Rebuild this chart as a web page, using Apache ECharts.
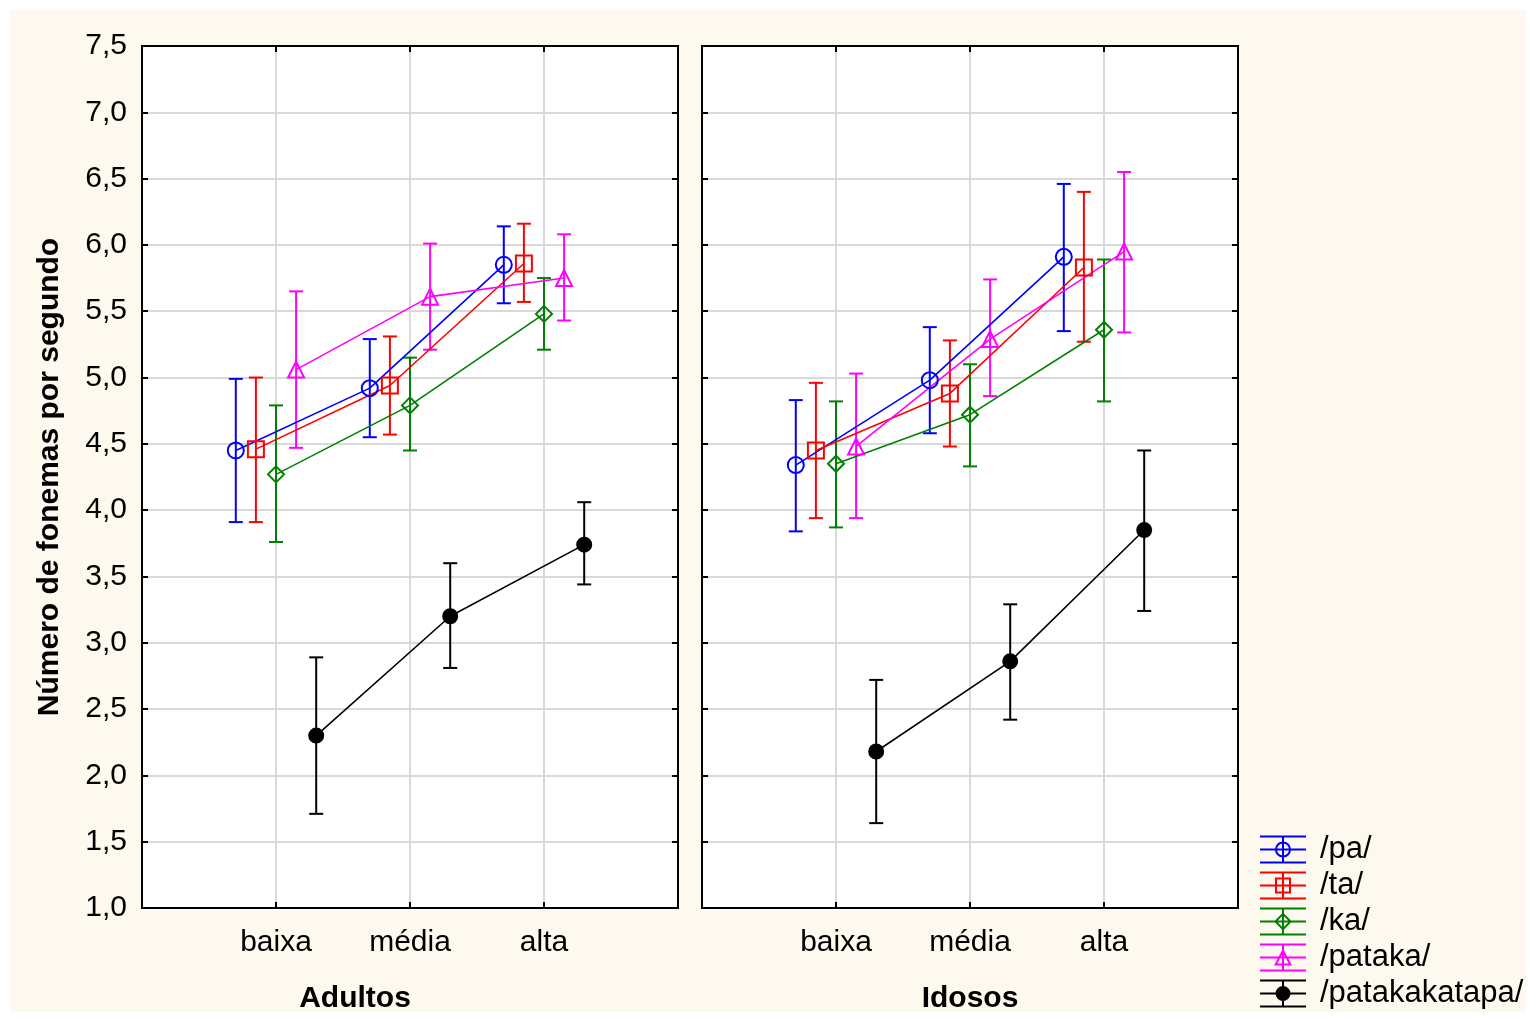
<!DOCTYPE html>
<html lang="pt">
<head>
  <meta charset="UTF-8">
  <title>fonemas</title>
  <style>
    html, body { margin:0; padding:0; background:#fff; }
    #chart { width:1536px; height:1022px; }
  </style>
</head>
<body>
  <div id="chart"></div>
  <script src="https://cdn.jsdelivr.net/npm/echarts@6/dist/echarts.min.js"></script>
  <script>
    var categories = ['baixa', 'média', 'alta']
    var seriesNames = ['/pa/', '/ta/', '/ka/', '/pataka/', '/patakakatapa/']
    var colors = ['#0000ff', '#ff0000', '#008000', '#ff00ff', '#000000']
    var symbols = ['circle', 'rect', 'diamond', 'triangle', 'circle']
    var offsets = [-0.3, -0.15, 0, 0.15, 0.3]

    // médias e limites (baixa, média, alta) por série
    var adultosMean = [
      [4.45, 4.92, 5.85],
      [4.46, 4.94, 5.86],
      [4.27, 4.79, 5.48],
      [5.06, 5.61, 5.75],
      [2.30, 3.20, 3.74]
    ]
    var adultosLow = [
      [3.91, 4.55, 5.56],
      [3.91, 4.57, 5.57],
      [3.76, 4.45, 5.21],
      [4.47, 5.21, 5.43],
      [1.71, 2.81, 3.44]
    ]
    var adultosHigh = [
      [4.99, 5.29, 6.14],
      [5.00, 5.31, 6.16],
      [4.79, 5.15, 5.75],
      [5.65, 6.01, 6.08],
      [2.89, 3.60, 4.06]
    ]
    var idososMean = [
      [4.34, 4.98, 5.91],
      [4.45, 4.88, 5.83],
      [4.35, 4.72, 5.36],
      [4.48, 5.29, 5.95],
      [2.18, 2.86, 3.85]
    ]
    var idososLow = [
      [3.84, 4.58, 5.35],
      [3.94, 4.48, 5.27],
      [3.87, 4.33, 4.82],
      [3.94, 4.86, 5.34],
      [1.64, 2.42, 3.24]
    ]
    var idososHigh = [
      [4.83, 5.38, 6.46],
      [4.96, 5.28, 6.40],
      [4.82, 5.10, 5.89],
      [5.03, 5.74, 6.55],
      [2.72, 3.29, 4.45]
    ]

    var FONT = 'Liberation Sans, Arial, sans-serif'
    var panels = [
      { name:'Adultos', mean:adultosMean, low:adultosLow, high:adultosHigh, left:142, namePad:[0, 110, 0, 0] },
      { name:'Idosos', mean:idososMean, low:idososLow, high:idososHigh, left:702, namePad:0 }
    ]

    // ícones da legenda: barra de erro + marcador (46 x 28)
    var bars = 'M0 0H46V2H0Z M0 13H46V15H0Z M0 26H46V28H0Z M22 0H24V28H22Z '
    var legendIcons = [
      bars + 'M15 14A8 8 0 1 1 31 14A8 8 0 1 1 15 14Z M17 14A6 6 0 1 0 29 14A6 6 0 1 0 17 14Z',
      bars + 'M15 6H31V22H15Z M17 8V20H29V8Z',
      bars + 'M23 5L32 14L23 23L14 14Z M23 7.8L16.8 14L23 20.2L29.2 14Z',
      bars + 'M23 5L32 22L14 22Z M23 9.3L17.4 20L28.6 20Z',
      bars + 'M15.5 14A7.5 7.5 0 1 1 30.5 14A7.5 7.5 0 1 1 15.5 14Z'
    ]

    function errorBar(params, api) {
      var x = api.value(0)
      var lo = api.coord([x, api.value(1)])
      var hi = api.coord([x, api.value(2)])
      var w = 7
      var style = { stroke: api.visual('color'), lineWidth: 2 }
      return {
        type: 'group',
        children: [
          { type:'line', shape:{ x1:lo[0], y1:lo[1], x2:hi[0], y2:hi[1] }, style:style },
          { type:'line', shape:{ x1:lo[0]-w, y1:lo[1], x2:lo[0]+w, y2:lo[1] }, style:style },
          { type:'line', shape:{ x1:hi[0]-w, y1:hi[1], x2:hi[0]+w, y2:hi[1] }, style:style }
        ]
      }
    }

    var tickStyle = { show:true, inside:true, length:6, lineStyle:{ color:'#000', width:2 } }
    var lineStyleAx = { show:true, onZero:false, lineStyle:{ color:'#000', width:2 } }

    var grids = [], xAxes = [], yAxes = [], series = []
    panels.forEach(function (p, gi) {
      grids.push({ left:p.left, top:46, width:536, height:862, show:true,
        backgroundColor:'#fff', borderColor:'#000', borderWidth:2 })
      // eixo x inferior
      xAxes.push({
        gridIndex:gi, type:'value', min:0, max:4, interval:1,
        name:p.name, nameLocation:'middle', nameGap:76,
        nameTextStyle:{ fontFamily:FONT, fontSize:30, fontWeight:'bold', color:'#000', padding:p.namePad },
        axisLine:lineStyleAx, axisTick:tickStyle,
        axisLabel:{ margin:20, fontFamily:FONT, fontSize:30, color:'#000',
          formatter:function (v) { return categories[v - 1] || '' } },
        splitLine:{ show:true, lineStyle:{ color:'#d9d9d9', width:2 } }
      })
      // eixo x superior (só marcas)
      xAxes.push({
        gridIndex:gi, type:'value', min:0, max:4, interval:1, position:'top',
        axisLine:lineStyleAx, axisTick:tickStyle,
        axisLabel:{ show:false }, splitLine:{ show:false }
      })
      yAxes.push({
        gridIndex:gi, type:'value', min:1, max:7.5, interval:0.5,
        name: gi === 0 ? 'Número de fonemas por segundo' : '',
        nameLocation:'middle', nameGap:77,
        nameTextStyle:{ fontFamily:FONT, fontSize:30, fontWeight:'bold', color:'#000' },
        axisLine:lineStyleAx, axisTick:tickStyle,
        axisLabel:{ show: gi === 0, margin:15, fontFamily:FONT, fontSize:30, color:'#000',
          formatter:function (v) { return v.toFixed(1).replace('.', ',') } },
        splitLine:{ show:true, lineStyle:{ color:'#d9d9d9', width:2 } }
      })
      yAxes.push({
        gridIndex:gi, type:'value', min:1, max:7.5, interval:0.5, position:'right',
        axisLine:lineStyleAx, axisTick:tickStyle,
        axisLabel:{ show:false }, splitLine:{ show:false }
      })
    })

    panels.forEach(function (p, gi) {
      seriesNames.forEach(function (nm, si) {
        var c = colors[si]
        var pts = p.mean[si].map(function (v, ci) { return [ci + 1 + offsets[si], v] })
        var errs = p.mean[si].map(function (v, ci) {
          return [ci + 1 + offsets[si], p.low[si][ci], p.high[si][ci]]
        })
        series.push({
          name:nm, type:'line', xAxisIndex:gi * 2, yAxisIndex:gi * 2,
          data:pts, symbol:symbols[si], symbolSize: si === 4 ? 14 : 16,
          showAllSymbol:true, z:3, animation:false,
          lineStyle:{ color:c, width:1.6 },
          itemStyle:{ color: si === 4 ? '#000' : 'rgba(255,255,255,0)', borderColor:c, borderWidth:2 }
        })
        series.push({
          name:nm, type:'custom', xAxisIndex:gi * 2, yAxisIndex:gi * 2,
          data:errs, renderItem:errorBar, z:2, animation:false,
          itemStyle:{ color:c },
          encode:{ x:0, y:[1, 2] }
        })
      })
    })

    var chart = echarts.init(document.getElementById('chart'))
    chart.setOption({
      animation:false,
      backgroundColor:'#ffffff',
      graphic:[{ type:'rect', z:-10, shape:{ x:10, y:10, width:1516, height:1002 },
        style:{ fill:'#fdf9ee' } }],
      grid:grids,
      xAxis:xAxes,
      yAxis:yAxes,
      legend:{
        data:seriesNames.map(function (nm, i) {
          return { name:nm, icon:'path://' + legendIcons[i],
            itemStyle:{ color:colors[i], borderWidth:0 } }
        }),
        orient:'vertical', left:1260, top:834, height:188, padding:0,
        itemWidth:46, itemHeight:28, itemGap:5,
        textStyle:{ fontFamily:FONT, fontSize:31, color:'#000', lineHeight:28, padding:[0, 0, 0, 9] }
      },
      series:series
    })
  </script>
</body>
</html>
